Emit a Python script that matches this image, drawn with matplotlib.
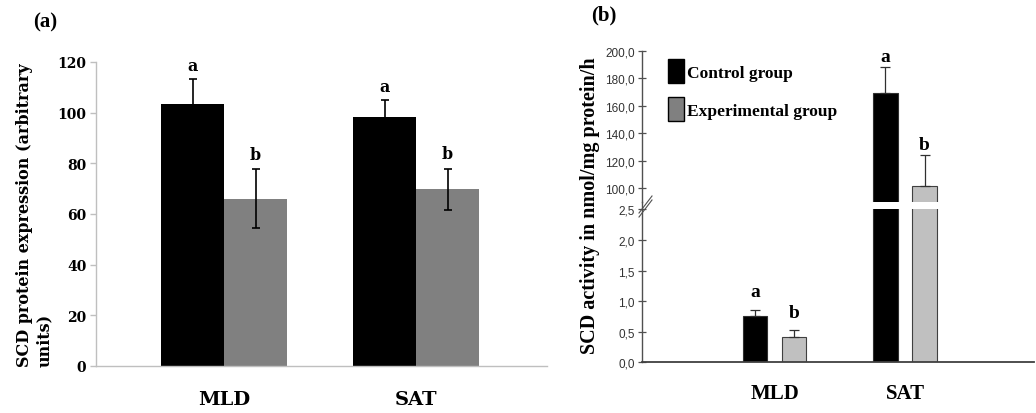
import matplotlib
matplotlib.use("Agg")
import matplotlib.pyplot as plt
import numpy as np
from matplotlib.lines import Line2D
from matplotlib.patches import Patch
from matplotlib.ticker import FuncFormatter

# panel (a): SCD protein expression
tissues = ["MLD", "SAT"]
prot_ctrl = [103.4, 98.1]
prot_ctrl_err = [9.9, 6.9]
prot_exp = [66.0, 69.8]
prot_exp_err = [11.6, 8.1]
prot_ctrl_sig = ["a", "a"]
prot_exp_sig = ["b", "b"]

# panel (b): SCD activity (nmol/mg protein/h)
act_ctrl = [0.76, 169.2]
act_ctrl_err = [0.095, 18.7]
act_exp = [0.41, 101.5]
act_exp_err = [0.11, 22.5]
act_ctrl_sig = ["a", "a"]
act_exp_sig = ["b", "b"]
groups = ["Control group", "Experimental group"]

SERIF_A = "DejaVu Serif"
SERIF_B = "Liberation Serif"
SANS = "Liberation Sans"

W, H = 1036, 414
fig = plt.figure(figsize=(W / 100, H / 100), dpi=100)


def fx(px):
    return px / W


def fy(py):
    return 1 - py / H


# ---------------- panel (a)
ax = fig.add_axes([fx(96), fy(367), fx(546.7 - 96), (367 - 63) / H])
x = np.arange(len(tissues))
bw = 0.328
ax.bar(x - bw / 2, prot_ctrl, bw, color="black", zorder=2)
ax.bar(x + bw / 2, prot_exp, bw, color="#808080", zorder=2)
ax.errorbar(x - bw / 2, prot_ctrl, yerr=prot_ctrl_err, fmt="none", ecolor="black",
            elinewidth=1.2, capsize=3, capthick=1.2, zorder=3)
ax.errorbar(x + bw / 2, prot_exp, yerr=prot_exp_err, fmt="none", ecolor="black",
            elinewidth=1.2, capsize=3, capthick=1.2, zorder=3)
for i in range(len(tissues)):
    ax.annotate(prot_ctrl_sig[i], (x[i] - bw / 2, prot_ctrl[i] + prot_ctrl_err[i]),
                xytext=(0, 10), textcoords="offset points", ha="center", va="center",
                family=SERIF_A, fontweight="bold", fontsize=11.5)
    ax.annotate(prot_exp_sig[i], (x[i] + bw / 2, prot_exp[i] + prot_exp_err[i]),
                xytext=(0, 11), textcoords="offset points", ha="center", va="center",
                family=SERIF_A, fontweight="bold", fontsize=11.5)
ax.set_xlim(-0.667, 1.68)
ax.set_ylim(0, 120)
ax.set_yticks(np.arange(0, 121, 20))
ax.set_xticks(x)
ax.set_xticklabels(tissues, family=SERIF_A, fontweight="bold", fontsize=14)
for lab in ax.get_yticklabels():
    lab.set_family(SERIF_A)
    lab.set_fontweight("bold")
    lab.set_fontsize(10)
ax.tick_params(axis="x", length=0, pad=17)
ax.tick_params(axis="y", length=4, width=1, color="#bfbfbf", pad=3)
for s in ("top", "right"):
    ax.spines[s].set_visible(False)
for s in ("left", "bottom"):
    ax.spines[s].set_color("#bfbfbf")
    ax.spines[s].set_linewidth(1.0)
ax.set_ylabel("SCD protein expression (arbitrary\nunits)", family=SERIF_A,
              fontweight="bold", fontsize=11.5, linespacing=1.25, multialignment="left")
ax.yaxis.set_label_coords((53 - 96) / 450.7, 0.5)

# ---------------- panel (b): broken axis
left_b = fx(641.7)
width_b = fx(1034 - 641.7)
ax_lo = fig.add_axes([left_b, fy(363.3), width_b, (363.3 - 210.3) / H])
ax_hi = fig.add_axes([left_b, fy(202.7), width_b, (202.7 - 51.7) / H])
bw2 = 0.187
off = 0.15
for a, dy in ((ax_lo, 13), (ax_hi, 8)):
    a.bar(x - off, act_ctrl, bw2, color="black", edgecolor="#303030", linewidth=0.8, zorder=2)
    a.bar(x + off, act_exp, bw2, color="#c0c0c0", edgecolor="#404040", linewidth=0.8, zorder=2)
    a.errorbar(x - off, act_ctrl, yerr=[np.zeros(2), act_ctrl_err], fmt="none",
               ecolor="#303030", elinewidth=0.9, capsize=3.5, capthick=0.9, zorder=3)
    a.errorbar(x + off, act_exp, yerr=[np.zeros(2), act_exp_err], fmt="none",
               ecolor="#303030", elinewidth=0.9, capsize=3.5, capthick=0.9, zorder=3)
    for i in range(len(tissues)):
        a.annotate(act_ctrl_sig[i], (x[i] - off, act_ctrl[i] + act_ctrl_err[i]),
                   xytext=(0, dy), textcoords="offset points", ha="center", va="center",
                   family=SERIF_B, fontweight="bold", fontsize=14)
        a.annotate(act_exp_sig[i], (x[i] + off, act_exp[i] + act_exp_err[i]),
                   xytext=(0, dy), textcoords="offset points", ha="center", va="center",
                   family=SERIF_B, fontweight="bold", fontsize=14)
    a.set_xlim(-1.021, 1.99)
    for s in ("top", "right"):
        a.spines[s].set_visible(False)
    a.spines["left"].set_color("#505050")
    a.spines["left"].set_linewidth(1.0)
    a.tick_params(axis="y", direction="inout", length=6, width=0.9, color="#505050",
                  labelsize=8.5, labelcolor="#333333", pad=2)
    a.yaxis.set_major_formatter(FuncFormatter(lambda v, p: f"{v:.1f}".replace(".", ",")))
    for lab in a.get_yticklabels():
        lab.set_family(SANS)

ax_lo.set_ylim(0, 2.5)
ax_lo.set_yticks(np.arange(0, 2.51, 0.5))
ax_lo.spines["bottom"].set_color("#404040")
ax_lo.spines["bottom"].set_linewidth(1.3)
ax_lo.set_xticks(x)
ax_lo.set_xticklabels(tissues, family=SERIF_B, fontweight="bold", fontsize=15)
ax_lo.tick_params(axis="x", length=0, pad=15)

ax_hi.set_ylim(90.2, 200)
ax_hi.set_yticks(np.arange(100, 201, 20))
ax_hi.spines["bottom"].set_visible(False)
ax_hi.set_xticks([])

# axis line through the gap and break marks
fig.add_artist(Line2D([left_b, left_b], [fy(210.3), fy(202.7)], color="#505050", lw=1.0))
for d in (0, 4):
    fig.add_artist(Line2D([fx(639), fx(652)], [fy(214 + d), fy(197 + d)], color="#505050", lw=0.8))

fig.text(fx(590), fy(206), "SCD activity in nmol/mg protein/h", rotation=90,
         ha="center", va="center", family=SERIF_B, fontweight="bold", fontsize=14.5)

handles = [Patch(facecolor="black", edgecolor="black"),
           Patch(facecolor="#808080", edgecolor="black")]
ax_hi.legend(handles, groups, loc="upper left", bbox_to_anchor=(fx(668), fy(60)),
             bbox_transform=fig.transFigure, frameon=False, handlelength=0.95,
             handleheight=1.75, handletextpad=0.15, labelspacing=0.8,
             borderaxespad=0, borderpad=0,
             prop={"family": SERIF_B, "weight": "bold", "size": 12.5})

fig.text(fx(45.5), fy(22), "(a)", ha="center", va="center", family=SERIF_B,
         fontweight="bold", fontsize=15)
fig.text(fx(603.5), fy(15), "(b)", ha="center", va="center", family=SERIF_B,
         fontweight="bold", fontsize=15)

fig.savefig("out.png", dpi=100, facecolor="white")
